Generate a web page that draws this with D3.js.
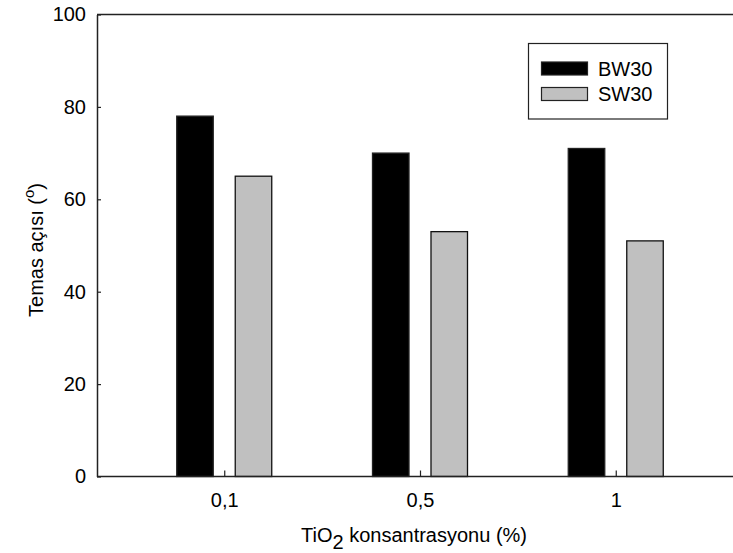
<!DOCTYPE html>
<html><head><meta charset="utf-8">
<script src="https://cdn.jsdelivr.net/npm/d3@7"></script>
<style>
body{margin:0;background:#fff;}
svg{display:block;font-family:Arial,"Liberation Sans",sans-serif;}
</style></head>
<body>
<svg id="chart" width="733" height="553"></svg>
<script>
const categories = ["0,1", "0,5", "1"];
const seriesNames = ["BW30", "SW30"];
const bw30 = [78, 70, 71];
const sw30 = [65, 53, 51];
const yTicks = [0, 20, 40, 60, 80, 100];
const seriesColors = ["#000000", "#c0c0c0"];

(function () {
const svg = d3.select("#chart");
const mLeft = 97, mRight = 743, mTop = 14.5, mBottom = 476.5;
const fs = 20;

const x = d3.scaleBand().domain(categories).range([mLeft, mRight]).paddingInner(0).paddingOuter(0.15);
const xSub = d3.scaleBand().domain(seriesNames).range([-47.5, 47.5]).paddingInner(0.376).paddingOuter(0);
const y = d3.scaleLinear().domain([0, 100]).range([mBottom, mTop]);

const data = categories.map((c, i) => ({cat: c, vals: [bw30[i], sw30[i]]}));

// bars
const groups = svg.append("g").selectAll("g").data(data).join("g")
  .attr("transform", d => `translate(${x(d.cat) + x.bandwidth() / 2},0)`);
groups.selectAll("rect").data(d => d.vals.map((v, j) => ({v, s: seriesNames[j], j})))
  .join("rect")
  .attr("x", d => xSub(d.s))
  .attr("width", xSub.bandwidth())
  .attr("y", d => y(d.v))
  .attr("height", d => y(0) - y(d.v))
  .attr("fill", d => seriesColors[d.j])
  .attr("stroke", d => d.j === 0 ? "#222" : "#111")
  .attr("stroke-width", 1.3);

// top frame line
svg.append("line").attr("x1", mLeft).attr("x2", mRight).attr("y1", mTop).attr("y2", mTop)
  .attr("stroke", "#222").attr("stroke-width", 1.5);

// y axis
const yAxis = svg.append("g").attr("transform", `translate(${mLeft},0)`)
  .call(d3.axisLeft(y).tickValues(yTicks).tickSizeInner(-4).tickSizeOuter(0).tickPadding(11));
yAxis.select(".domain").attr("stroke", "#222").attr("stroke-width", 1.5);
yAxis.selectAll(".tick line").attr("stroke", "#222").attr("stroke-width", 1.2);
yAxis.selectAll("text").attr("font-size", fs).attr("fill", "#000").attr("font-family", "Arial, 'Liberation Sans', sans-serif");

// x axis
const xCenter = d3.scalePoint().domain(categories).range([x(categories[0]) + x.bandwidth()/2, x(categories[2]) + x.bandwidth()/2]);
const xAxis = svg.append("g").attr("transform", `translate(0,${mBottom})`)
  .call(d3.axisBottom(xCenter).tickSizeInner(-6).tickSizeOuter(0).tickPadding(16));
xAxis.select(".domain").attr("d", `M${mLeft},0H${mRight}`).attr("stroke", "#222").attr("stroke-width", 1.5);
xAxis.selectAll(".tick line").attr("stroke", "#222").attr("stroke-width", 1.2);
xAxis.selectAll("text").attr("font-size", fs).attr("fill", "#000").attr("font-family", "Arial, 'Liberation Sans', sans-serif");

// y label
const yl = svg.append("text").attr("transform", "translate(43,250) rotate(-90)")
  .attr("text-anchor", "middle").attr("font-size", fs).attr("fill", "#000");
yl.append("tspan").text("Temas açısı (");
yl.append("tspan").attr("dy", -9).attr("font-size", 15).text("o");
yl.append("tspan").attr("dy", 9).text(")");

// x label
const xl = svg.append("text").attr("x", 414).attr("y", 542).attr("text-anchor", "middle")
  .attr("font-size", fs).attr("fill", "#000");
xl.append("tspan").text("TiO");
xl.append("tspan").attr("dy", 7).text("2");
xl.append("tspan").attr("dy", -7).text(" konsantrasyonu (%)");

// legend
const lg = svg.append("g");
lg.append("rect").attr("x", 528.5).attr("y", 43.5).attr("width", 139).attr("height", 75.5)
  .attr("fill", "#fff").attr("stroke", "#222").attr("stroke-width", 1.2);
seriesNames.forEach((s, i) => {
  lg.append("rect").attr("x", 541.5).attr("y", 62 + i * 25.5).attr("width", 46).attr("height", 13)
    .attr("fill", seriesColors[i]).attr("stroke", "#222").attr("stroke-width", 1.2);
  lg.append("text").attr("x", 598).attr("y", 75.5 + i * 25.5).attr("font-size", fs).attr("fill", "#000").text(s);
});
})();
</script>
</body></html>
